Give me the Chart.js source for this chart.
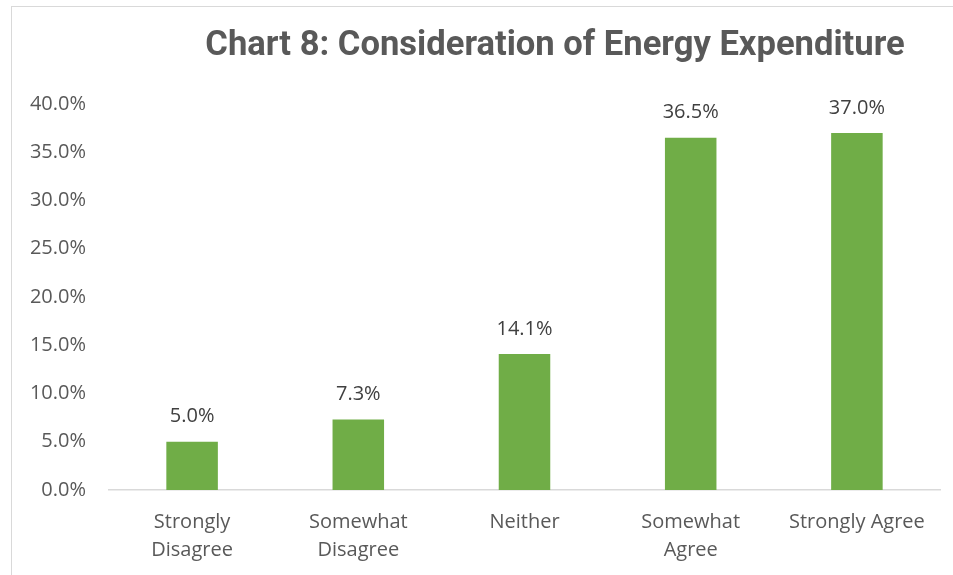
<!DOCTYPE html>
<html>
<head>
<meta charset="utf-8">
<script src="https://cdn.jsdelivr.net/npm/chart.js@4.4.1/dist/chart.umd.min.js"></script>
<style>
  html, body { margin: 0; padding: 0; background: #fff; overflow: hidden; }
  #frame { position: absolute; left: 11px; top: 6px; width: 960px; height: 600px; border: 1px solid #d9d9d9; }
  #wrap { position: absolute; left: 0; top: 0; width: 953px; height: 575px; }
</style>
</head>
<body>
<div id="frame"></div>
<div id="wrap"><canvas id="chart8"></canvas></div>
<script>
const categories = [['Strongly', 'Disagree'], ['Somewhat', 'Disagree'], 'Neither', ['Somewhat', 'Agree'], 'Strongly Agree'];
const shares = [5.0, 7.3, 14.1, 36.5, 37.0];
const yTicks = [0, 5, 10, 15, 20, 25, 30, 35, 40];

const titleText = 'Chart 8: Consideration of Energy Expenditure';

// title sits over the plot, a bit right of the canvas centre
const titlePlugin = {
    id: 'chartTitle',
    afterDraw(chart) {
        const ctx = chart.ctx;
        ctx.save();
        ctx.font = 'bold 34.6px "Liberation Sans Narrow", "Roboto", sans-serif';
        ctx.fillStyle = '#595959';
        ctx.textAlign = 'center';
        ctx.textBaseline = 'middle';
        ctx.fillText(titleText, 555, 46);
        ctx.restore();
    }
};

// value labels above each bar
const valueLabels = {
    id: 'valueLabels',
    afterDatasetsDraw(chart) {
        const ctx = chart.ctx;
        const meta = chart.getDatasetMeta(0);
        ctx.save();
        ctx.font = '20px "Open Sans", sans-serif';
        ctx.fillStyle = '#404040';
        ctx.textAlign = 'center';
        ctx.textBaseline = 'middle';
        meta.data.forEach((bar, i) => {
            ctx.fillText(shares[i].toFixed(1) + '%', bar.x, bar.y - 25);
        });
        ctx.restore();
    }
};

new Chart(document.getElementById('chart8'), {
    type: 'bar',
    data: {
        labels: categories,
        datasets: [{
            data: shares,
            backgroundColor: '#70ad47',
            barPercentage: 0.31,
            categoryPercentage: 1.0
        }]
    },
    options: {
        responsive: true,
        maintainAspectRatio: false,
        animation: false,
        layout: { padding: { left: 12, right: 13, top: 104, bottom: 0 } },
        plugins: {
            legend: { display: false },
            tooltip: { enabled: false }
        },
        scales: {
            x: {
                grid: { display: false },
                border: { display: true, color: '#d9d9d9', width: 1.5 },
                ticks: {
                    color: '#595959',
                    font: { family: '"Open Sans", sans-serif', size: 20, lineHeight: 1.4 },
                    padding: 10,
                    maxRotation: 0,
                    autoSkip: false
                },
                afterFit(scale) { scale.height = 85; }
            },
            y: {
                min: 0,
                max: 40,
                grid: { display: false },
                border: { display: false },
                afterBuildTicks(scale) { scale.ticks = yTicks.map(v => ({ value: v })); },
                ticks: {
                    color: '#595959',
                    font: { family: '"Open Sans", sans-serif', size: 20 },
                    padding: 15,
                    callback: v => v.toFixed(1) + '%'
                },
                afterFit(scale) { scale.width = 97; }
            }
        }
    },
    plugins: [titlePlugin, valueLabels]
});
</script>
</body>
</html>
